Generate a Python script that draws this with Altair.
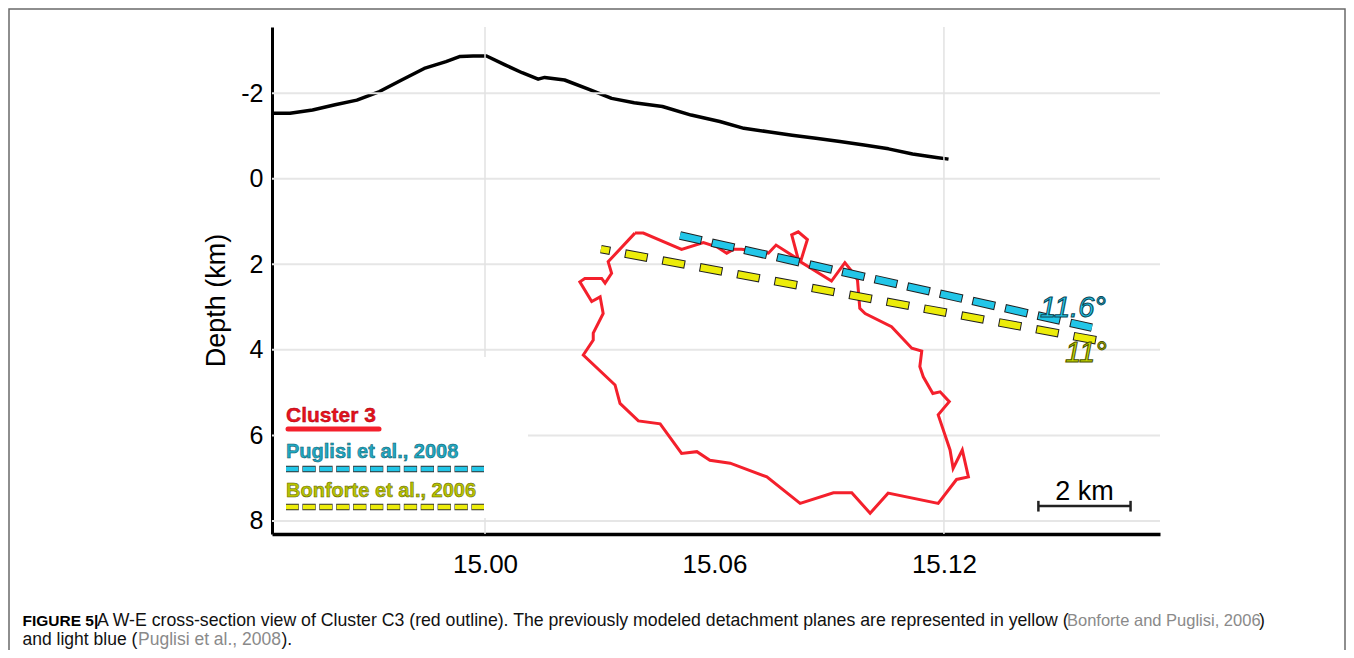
import altair as alt
import pandas as pd

FONT = "Liberation Sans"

# ---- axis ranges / ticks -------------------------------------------------
lon_domain = [14.9443, 15.1765]
depth_domain = [-3.549, 8.305]
x_ticks = [15.00, 15.06, 15.12]
y_ticks = [-2, 0, 2, 4, 6, 8]
grid_lon = [15.00, 15.12]

# ---- topography profile ---------------------------------------------------
topo_lon = [14.9443, 14.9490, 14.9549, 14.9608, 14.9665, 14.9724, 14.9782, 14.9841,
            14.9898, 14.9935, 14.9969, 15.0004, 15.0051, 15.0097, 15.0139, 15.0156,
            15.0208, 15.0272, 15.0331, 15.0390, 15.0464, 15.0539, 15.0614, 15.0677,
            15.0740, 15.0803, 15.0865, 15.0928, 15.0991, 15.1055, 15.1118, 15.1180,
            15.1212]
topo_depth = [-1.53, -1.53, -1.61, -1.73, -1.84, -2.04, -2.31, -2.58,
              -2.74, -2.86, -2.87, -2.87, -2.67, -2.48, -2.33, -2.37,
              -2.31, -2.09, -1.88, -1.78, -1.69, -1.49, -1.34, -1.18,
              -1.10, -1.02, -0.95, -0.87, -0.79, -0.70, -0.58, -0.50,
              -0.46]

# ---- Cluster 3 outline ------------------------------------------------------
cluster_lon = [15.0392, 15.0414, 15.0514, 15.0571, 15.0606, 15.0632, 15.0649, 15.0671,
               15.0741, 15.0761, 15.0819, 15.0802, 15.0819, 15.0843, 15.0825, 15.0906,
               15.0941, 15.0967, 15.0974, 15.0980, 15.0994, 15.1063, 15.1116, 15.1142,
               15.1137, 15.1146, 15.1171, 15.1190, 15.1214, 15.1185, 15.1216, 15.1224,
               15.1248, 15.1264, 15.1233, 15.1185, 15.1054, 15.1007, 15.0959, 15.0911,
               15.0824, 15.0737, 15.0641, 15.0588, 15.0554, 15.0514, 15.0458, 15.0401,
               15.0353, 15.0340, 15.0257, 15.0283, 15.0283, 15.0309, 15.0301, 15.0279,
               15.0248, 15.0261, 15.0305, 15.0314, 15.0331, 15.0322, 15.0392]
cluster_depth = [1.27, 1.27, 1.65, 1.49, 1.59, 1.74, 1.65, 1.65,
                 1.74, 1.55, 1.88, 1.31, 1.24, 1.42, 1.94, 2.39,
                 1.96, 2.25, 2.37, 3.03, 3.15, 3.46, 3.96, 4.03,
                 4.39, 4.63, 5.02, 4.98, 5.21, 5.52, 6.34, 6.77,
                 6.34, 6.97, 7.03, 7.59, 7.35, 7.82, 7.34, 7.34,
                 7.59, 6.97, 6.65, 6.58, 6.38, 6.42, 5.73, 5.66,
                 5.25, 4.82, 4.12, 3.77, 3.61, 3.15, 2.76, 2.87,
                 2.41, 2.33, 2.33, 2.44, 2.21, 1.94, 1.27]

# ---- modelled detachment planes ------------------------------------------
puglisi_lon = [15.0510, 15.1587]
puglisi_depth = [1.326, 3.481]
bonforte_lon = [15.0303, 15.1603]
bonforte_depth = [1.644, 3.783]

# ---- scale bar (2 km) ------------------------------------------------------
bar_lon = [15.1447, 15.1688]
bar_depth = 7.65
bar_tick_depth = [7.53, 7.78]

# ---- texts -----------------------------------------------------------------
legend_labels = ["Cluster 3", "Puglisi et al., 2008", "Bonforte et al., 2006"]
angle_labels = ["11.6°", "11°"]
caption_l1 = ["FIGURE 5|",
              "A W-E cross-section view of Cluster C3 (red outline). The previously modeled detachment planes are represented in yellow (",
              "Bonforte and Puglisi, 2006", ")"]
caption_l2 = ["and light blue (", "Puglisi et al., 2008", ")."]

RED = "#f4202c"
CYAN = "#22c6e8"
YELLOW = "#ecec0a"

xs = alt.Scale(domain=lon_domain, nice=False, zero=False)
ys = alt.Scale(domain=depth_domain, nice=False, zero=False, reverse=True)

XA = alt.Axis(values=x_ticks, format=".2f", labelFontSize=26, labelFont=FONT,
              labelColor="black", labelPadding=17, ticks=False, grid=False,
              domainColor="black", domainWidth=3.5, title=None)
YA = alt.Axis(values=y_ticks,
              labelExpr="datum.value < 0 ? '-' + abs(datum.value) : '' + datum.value",
              labelFontSize=25, labelFont=FONT, labelColor="black", labelPadding=9,
              ticks=False, grid=False, domainColor="black", domainWidth=3,
              title="Depth (km)", titleFont=FONT, titleFontSize=27,
              titleFontWeight="normal", titleColor="black", titleAngle=270,
              titleX=-56, titleY=273, titleAlign="center", titleBaseline="middle")


def X():
    return alt.X("lon:Q", scale=xs, axis=XA)


def Y():
    return alt.Y("depth:Q", scale=ys, axis=YA)


one = pd.DataFrame({"a": [0]})


def txt(s, x, y, **kw):
    return alt.Chart(pd.DataFrame({"t": [s]})).mark_text(
        align=kw.pop("align", "left"), baseline="alphabetic", font=kw.pop("font", FONT), **kw
    ).encode(x=alt.value(x), y=alt.value(y), text="t:N")


topo_df = pd.DataFrame({"lon": topo_lon, "depth": topo_depth, "i": range(len(topo_lon))})
topo = alt.Chart(topo_df).mark_line(color="black", strokeWidth=3.5, strokeJoin="round").encode(
    x=X(), y=Y(), order="i:Q")

# grid
hgrid = alt.Chart(pd.DataFrame({"depth": y_ticks})).mark_rule(color="#e6e6e6", strokeWidth=2).encode(y=Y())
vgrid = alt.Chart(pd.DataFrame({"lon": grid_lon})).mark_rule(color="#e2e2e2", strokeWidth=1.5).encode(x=X())

legend_bg = alt.Chart(one).mark_rect(color="white").encode(
    x=alt.value(3), x2=alt.value(256), y=alt.value(330), y2=alt.value(491))

cl_df = pd.DataFrame({"lon": cluster_lon, "depth": cluster_depth, "i": range(len(cluster_lon))})
cluster = alt.Chart(cl_df).mark_line(color=RED, strokeWidth=3, strokeJoin="miter").encode(
    x=X(), y=Y(), order="i:Q")


def dashed(lons, deps, color, dash, offset, width=6.5):
    df = pd.DataFrame({"lon": lons, "depth": deps})
    outline = alt.Chart(df).mark_line(color="#202020", strokeWidth=width + 2, strokeCap="butt",
                                      strokeDash=[dash[0] + 2, dash[1] - 2],
                                      strokeDashOffset=offset + 1).encode(x=X(), y=Y())
    fill = alt.Chart(df).mark_line(color=color, strokeWidth=width, strokeCap="butt",
                                   strokeDash=dash, strokeDashOffset=offset).encode(x=X(), y=Y())
    return outline + fill


bonforte = dashed(bonforte_lon, bonforte_depth, YELLOW, [21, 17], 12.5)
puglisi = dashed(puglisi_lon, puglisi_depth, CYAN, [21.2, 12.2], 0)

lab116 = txt(angle_labels[0], 768, 290, fontSize=29, fontStyle="italic", color=CYAN,
             stroke="#0b4656", strokeWidth=1)
lab11 = txt(angle_labels[1], 793, 335, fontSize=29, fontStyle="italic", color="#c4d600",
            stroke="#4b5200", strokeWidth=1)

# legend
leg_red_line = alt.Chart(one).mark_rule(color=RED, strokeWidth=5, strokeCap="round").encode(
    x=alt.value(16), x2=alt.value(107), y=alt.value(402))


def leg_dash(y, color):
    o = alt.Chart(one).mark_rule(color="#303030", strokeWidth=6.5, strokeDash=[13.3, 3.6],
                                 strokeDashOffset=0.5).encode(x=alt.value(14), x2=alt.value(212),
                                                              y=alt.value(y))
    f = alt.Chart(one).mark_rule(color=color, strokeWidth=4.5, strokeDash=[12.3, 4.6]).encode(
        x=alt.value(14), x2=alt.value(212), y=alt.value(y))
    return o + f


leg_t1 = txt(legend_labels[0], 14, 395, fontSize=21, fontWeight="bold", color="#e8121c",
             stroke="#a00010", strokeWidth=0.4)
leg_t2 = txt(legend_labels[1], 14, 431, fontSize=20, fontWeight="bold", color="#20a8c2",
             stroke="#0e5868", strokeWidth=0.5)
leg_t3 = txt(legend_labels[2], 14, 470, fontSize=20, fontWeight="bold", color="#b8c400",
             stroke="#5a6000", strokeWidth=0.5)

# scale bar
bar_df = pd.DataFrame({"lon": bar_lon, "depth": [bar_depth, bar_depth]})
bar = alt.Chart(bar_df).mark_line(color="#222", strokeWidth=2.5).encode(x=X(), y=Y())
ticks_df = pd.DataFrame({"lon": bar_lon, "depth": [bar_tick_depth[0]] * 2, "depth2": [bar_tick_depth[1]] * 2})
bar_ticks = alt.Chart(ticks_df).mark_rule(color="#222", strokeWidth=2.5).encode(
    x=X(), y=Y(), y2="depth2:Q")
bar_lbl_df = pd.DataFrame({"lon": [(bar_lon[0] + bar_lon[1]) / 2], "depth": [7.51], "t": ["2 km"]})
bar_lbl = alt.Chart(bar_lbl_df).mark_text(font=FONT, fontSize=27, color="black", baseline="alphabetic",
                                          align="center").encode(x=X(), y=Y(), text="t:N")

# caption
cap = [
    txt(caption_l1[0], -249.5, 599, fontSize=15.5, fontWeight="bold", color="black"),
    txt(caption_l1[1], -175, 599, fontSize=17.7, color="#111"),
    txt(caption_l1[2], 795, 599, fontSize=16.5, color="#8a8a8a"),
    txt(caption_l1[3], 987, 599, fontSize=17.7, color="#111"),
    txt(caption_l2[0], -249.5, 618, fontSize=17.5, color="#111"),
    txt(caption_l2[1], -134, 618, fontSize=17.5, color="#8a8a8a"),
    txt(caption_l2[2], 9.5, 618, fontSize=17.5, color="#111"),
]

border = alt.Chart(one).mark_rect(fill="white", fillOpacity=0, stroke="#6a6a6a", strokeWidth=1.5).encode(
    x=alt.value(-263), x2=alt.value(1073), y=alt.value(-18), y2=alt.value(700))

chart = alt.layer(
    topo, hgrid, vgrid, legend_bg, cluster, bonforte, puglisi, lab116, lab11,
    leg_red_line, leg_dash(442, CYAN), leg_dash(480, YELLOW), leg_t1, leg_t2, leg_t3,
    bar, bar_ticks, bar_lbl, *cap, border
).properties(
    width=888, height=507,
    autosize=alt.AutoSizeParams(type="none"),
    padding={"left": 264, "top": 19, "right": 186, "bottom": 116},
    background="white",
).configure_view(stroke=None)

chart.save("out.html", embed_options={"renderer": "svg", "actions": False})
